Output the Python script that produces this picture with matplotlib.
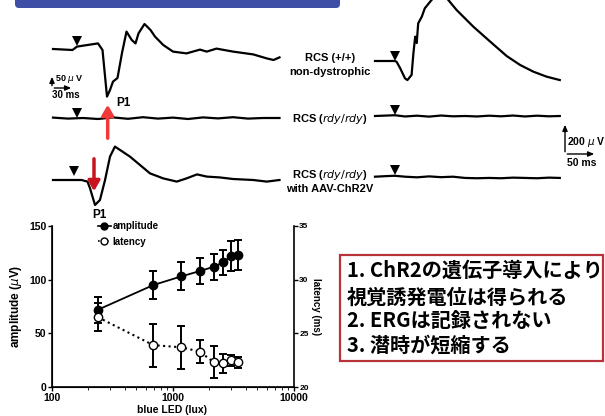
import numpy as np
import matplotlib
matplotlib.use('Agg')
import matplotlib.pyplot as plt
from matplotlib.patches import Rectangle, FancyBboxPatch
from matplotlib.lines import Line2D

plt.rcParams['font.family'] = ['Liberation Sans', 'DejaVu Sans']

# P1 dose-response (blue LED intensity, lux)
led = [240, 690, 1170, 1670, 2180, 2600, 3010, 3470]
amp = [72, 95, 103, 108, 112, 116, 122, 123]
amp_err = [12, 13, 13, 12, 12, 12, 14, 14]
lat = [26.5, 23.9, 23.7, 23.3, 22.3, 22.2, 22.5, 22.3]
lat_err = [1.3, 2.0, 2.0, 1.1, 1.5, 0.9, 0.5, 0.5]

# VEP traces (left), time in ms, voltage in uV
vep_t1 = [0, 13, 16, 30, 33, 36, 38, 40, 43, 46, 49, 52.5, 55, 57, 61, 65, 68, 73.5,
          80, 89, 98, 102.5, 109, 120, 133.5, 142.5, 147, 151]
vep_v1 = [-5, -10, 7, 23, -10, -243, -210, -168, -150, -25, 82, 40, 23, 73, 120, 90, 57, 15,
          -18, -27, -8, -18, -3, -18, -32, -52, -60, -47]
vep_t2 = [0, 10, 20, 30, 40, 50, 60, 70, 80, 90, 100, 110, 120, 130, 140, 151]
vep_v2 = [2, -3, 0, -5, 3, -4, 4, -3, 2, -5, 3, -2, 4, -3, 0, 0]
vep_t3 = [0, 12.5, 19, 23, 24.7, 28, 31.3, 34.7, 38, 41.3, 44.7, 51.3, 58, 64.7, 73.5,
          82.5, 89, 96, 102.5, 111, 120, 133.5, 142.5, 151]
vep_v3 = [0, 0, 0, -8, -42, -125, -100, 0, 117, 167, 150, 117, 75, 33, 8,
          -8, 8, 28, 17, 13, 5, 0, -8, 0]

# ERG traces (right)
erg_t1 = [0, 33, 36, 42, 50, 54, 61, 64, 67, 69.5, 72, 78, 83, 92, 97, 108, 119.5,
          136, 164, 192, 219.5, 242, 264, 286, 308]
erg_v1 = [0, 0, -5, -47, -112, -123, -90, 50, 157, 116, 243, 286, 340, 383, 406, 425, 406,
          329, 221, 125, 32, -26, -69, -101, -123]
erg_t2 = [0, 20, 33, 50, 70, 90, 110, 130, 150, 170, 190, 210, 230, 250, 270, 290, 308]
erg_v2 = [0, 3, 5, -3, 2, -4, 3, -2, 0, -3, 2, -2, 3, -3, 2, -2, 0]
erg_t3 = [0, 20, 33, 50, 70, 90, 110, 130, 150, 170, 190, 210, 230, 250, 270, 290, 308]
erg_v3 = [0, 4, 6, 0, -4, 2, -3, 0, -8, -10, -8, -10, -6, -8, -10, -6, -8]

fig = plt.figure(figsize=(6.05, 4.16), dpi=100)
fig.patch.set_facecolor('white')

# overlay in pixel coords for traces/annotations
ov = fig.add_axes([0, 0, 1, 1])
ov.set_xlim(0, 605)
ov.set_ylim(416, 0)
ov.axis('off')

# header banner
ov.add_patch(FancyBboxPatch((15, -10), 325, 18, boxstyle='round,pad=0,rounding_size=4',
                            facecolor='#3f4fa6', edgecolor='none'))

def trace(t, v, x0, sx, base, sy):
    t = np.asarray(t, float)
    v = np.asarray(v, float)
    ov.plot(x0 + t * sx, base - v * sy, color='black', lw=1.6, solid_joinstyle='round')

# left VEP panel: 30 ms = 20 px, 50 uV = 10 px
trace(vep_t1, vep_v1, 53, 1.5, 48, 0.2)
trace(vep_t2, vep_v2, 53, 1.5, 118, 0.2)
trace(vep_t3, vep_v3, 53, 1.5, 180, 0.2)
# right ERG panel: 50 ms = 30 px, 200 uV = 31 px
trace(erg_t1, erg_v1, 375, 0.6, 61, 0.155)
trace(erg_t2, erg_v2, 375, 0.6, 116, 0.155)
trace(erg_t3, erg_v3, 375, 0.6, 176.7, 0.155)

# stimulus markers
for x, y in [(77, 41), (77, 113), (74, 171), (395, 56), (395, 110), (395, 170)]:
    ov.plot(x, y, marker='v', color='black', ms=7.5, mew=0)

# red arrows
ov.annotate('', xy=(107.7, 102), xytext=(107.7, 141),
            arrowprops=dict(arrowstyle='-|>,head_width=0.35,head_length=0.6',
                            color='#f03a3a', lw=2.5))
ov.annotate('', xy=(94, 194), xytext=(94, 156),
            arrowprops=dict(arrowstyle='-|>,head_width=0.35,head_length=0.6',
                            color='#c8141e', lw=2.5))

# scale bars
arr = dict(arrowstyle='-|>,head_width=0.15,head_length=0.35', color='black', lw=1.0)
ov.annotate('', xy=(52, 74), xytext=(52, 88.5), arrowprops=arr)
ov.annotate('', xy=(74, 88), xytext=(51.5, 88), arrowprops=arr)
ov.text(55, 79, '50 $\\mu$ V', fontsize=6.5, fontweight='bold', va='center')
ov.text(52, 94.5, '30 ms', fontsize=7, fontweight='bold', va='center')
ov.annotate('', xy=(565, 122), xytext=(565, 154.5), arrowprops=arr)
ov.annotate('', xy=(597, 154), xytext=(564.5, 154), arrowprops=arr)
ov.text(567, 142, '200 $\\mu$ V', fontsize=7.5, fontweight='bold', va='center')
ov.text(567, 163, '50 ms', fontsize=7.5, fontweight='bold', va='center')

# labels
lab = dict(fontsize=8, fontweight='bold', ha='center', va='center')
ov.text(330, 58, 'RCS (+/+)', **lab)
ov.text(330, 72, 'non-dystrophic', **lab)
ov.text(330, 119, 'RCS ($\\it{rdy/rdy}$)', **lab)
ov.text(330, 175, 'RCS ($\\it{rdy/rdy}$)', **lab)
ov.text(330, 189, 'with AAV-ChR2V', **lab)
ov.text(116, 103, 'P1', fontsize=8.5, fontweight='bold', va='center')
ov.text(92, 215, 'P1', fontsize=8.5, fontweight='bold', va='center')

# summary box
ov.add_patch(Rectangle((340, 255), 263, 106, facecolor='white',
                       edgecolor='#b8323a', lw=1.6))
jp = dict(fontsize=14.5, fontweight='bold', va='center',
          family=['Noto Sans CJK JP', 'DejaVu Sans'])
ov.text(347, 270, '1. ChR2の遺伝子導入により', **jp)
ov.text(347, 297, '視覚誘発電位は得られる', **jp)
ov.text(347, 320, '2. ERGは記録されない', **jp)
ov.text(347, 345, '3. 潜時が短縮する', **jp)

# P1 chart
ax = fig.add_axes([52 / 605, 29 / 416, 241.7 / 605, 161 / 416])
ax.set_xscale('log')
ax.set_xlim(100, 10000)
ax.set_ylim(0, 150)
ax.errorbar(led, amp, yerr=amp_err, fmt='-o', color='black', ms=6, lw=1.3,
            capsize=3, elinewidth=1.4, capthick=1.4, zorder=3)
ax.set_yticks([0, 50, 100, 150])
ax.set_xticks([100, 1000, 10000])
ax.set_xticklabels(['100', '1000', '10000'])
ax.spines['top'].set_visible(False)
ax.spines['right'].set_visible(False)
ax.spines['left'].set_linewidth(1.2)
ax.spines['bottom'].set_linewidth(1.2)
ax.tick_params(labelsize=7.5, width=1, length=3, pad=1)
ax.tick_params(which='minor', length=2)
for lbl in ax.get_xticklabels() + ax.get_yticklabels():
    lbl.set_fontweight('bold')
ax.set_ylabel('amplitude ($\\mu$V)', fontsize=8.5, fontweight='bold', labelpad=4)
ax.patch.set_alpha(0)

ax2 = ax.twinx()
ax2.set_ylim(20, 35)
ax2.errorbar(led, lat, yerr=lat_err, fmt=':o', color='black', mfc='white', ms=6, lw=1.5,
             capsize=3, elinewidth=1.4, capthick=1.4, zorder=3)
ax2.set_yticks([20, 25, 30, 35])
ax2.spines['top'].set_visible(False)
ax2.spines['right'].set_linewidth(1.2)
ax2.tick_params(labelsize=6, width=1, length=3, pad=1)
for lbl in ax2.get_yticklabels():
    lbl.set_fontweight('bold')
ax2.set_ylabel('latency (ms)', fontsize=7, fontweight='bold', rotation=270, labelpad=9)

handles = [Line2D([], [], color='black', marker='o', ms=5, lw=1.2),
           Line2D([], [], color='black', marker='o', mfc='white', ms=5, lw=1.2, ls=':')]
leg = ax.legend(handles, ['amplitude', 'latency'], loc='upper left',
                bbox_to_anchor=(98, 221), bbox_transform=ov.transData,
                frameon=False, fontsize=7, handlelength=1.3, handletextpad=0.2,
                labelspacing=0.6, borderpad=0, borderaxespad=0)
for txt in leg.get_texts():
    txt.set_fontweight('bold')

fig.text(172 / 605, 1 - 410 / 416, 'blue LED (lux)', fontsize=7.5, fontweight='bold',
         ha='center', va='center')

fig.savefig('out.png', dpi=100)
